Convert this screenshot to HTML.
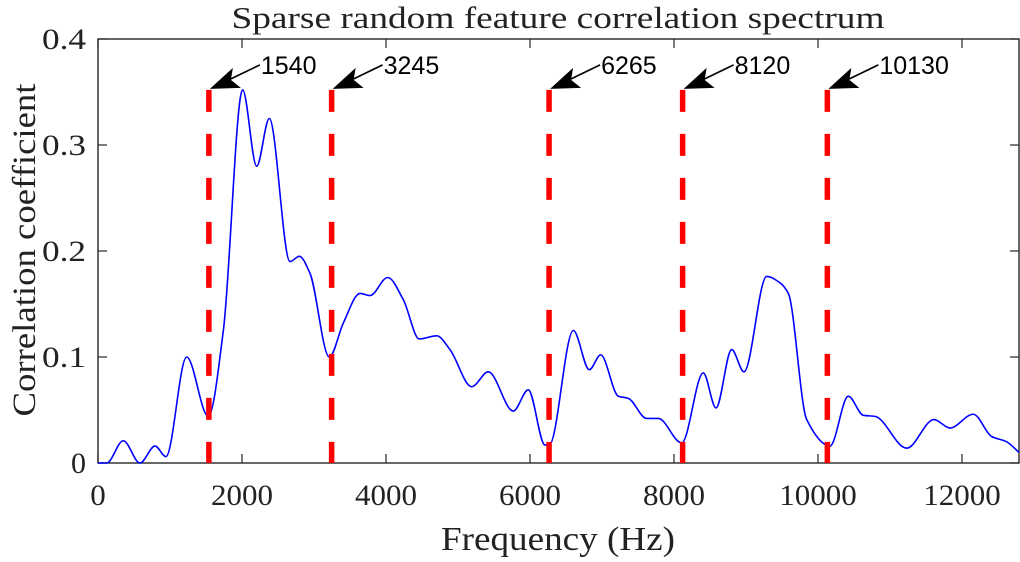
<!DOCTYPE html>
<html><head><meta charset="utf-8"><style>
html,body{margin:0;padding:0;background:#fff;}
svg text{font-family:"Liberation Serif",serif;fill:#222;}
</style></head><body>
<svg id="chart" width="1020" height="557" viewBox="0 0 1020 557" xmlns="http://www.w3.org/2000/svg">
<text x="558" y="28" font-size="31" text-anchor="middle" textLength="653" lengthAdjust="spacingAndGlyphs">Sparse random feature correlation spectrum</text>
<g id="axes"></g>
<g id="marks"></g>
<text x="558" y="550" font-size="34" text-anchor="middle" textLength="234" lengthAdjust="spacingAndGlyphs">Frequency (Hz)</text>
<text transform="translate(35,250) rotate(-90)" font-size="33" text-anchor="middle" textLength="333" lengthAdjust="spacingAndGlyphs">Correlation coefficient</text>
</svg>
<script>
const freqs=[0,120,351,583,792,944,1231,1532,1741,2009,2204,2379,2667,2796,2944,3213,3407,3639,3778,4023,4241,4463,4704,4889,5190,5421,5768,5976,6208,6268,6602,6824,6982,7227,7365,7621,7782,8107,8407,8583,8801,8972,9287,9472,9588,9843,10167,10421,10629,10792,11232,11611,11833,12157,12412,12621,12792];
const corr=[0,0,0.021,0,0.016,0.006,0.100,0.044,0.125,0.352,0.280,0.325,0.190,0.195,0.179,0.100,0.132,0.160,0.158,0.175,0.154,0.117,0.120,0.107,0.072,0.086,0.049,0.069,0.017,0.017,0.125,0.088,0.102,0.063,0.061,0.042,0.042,0.019,0.085,0.052,0.107,0.086,0.176,0.170,0.160,0.041,0.016,0.063,0.045,0.044,0.014,0.041,0.033,0.046,0.025,0.020,0.010];
const markFreqs=[1540,3245,6265,8120,10130];
const markLabels=["1540","3245","6265","8120","10130"];
const markTop=0.352;
const xTicks=[0,2000,4000,6000,8000,10000,12000];
const xTickLabels=["0","2000","4000","6000","8000","10000","12000"];
const yTicks=[0,0.1,0.2,0.3,0.4];
const yTickLabels=["0","0.1","0.2","0.3","0.4"];
const X0=98,X1=1019,Y0=463,Y1=39,XMAX=12792,YMAX=0.4;
const sx=f=>X0+f/XMAX*(X1-X0);
const sy=v=>Y0-v/YMAX*(Y0-Y1);
const NS="http://www.w3.org/2000/svg";
function mk(tag,attrs,parent){const e=document.createElementNS(NS,tag);for(const k in attrs)e.setAttribute(k,attrs[k]);parent.appendChild(e);return e;}
const axes=document.getElementById('axes'),marks=document.getElementById('marks');
const px=freqs.map(sx),py=corr.map(sy),n=px.length;
const dx=[],sl=[];for(let i=0;i<n-1;i++){dx.push(px[i+1]-px[i]);sl.push((py[i+1]-py[i])/dx[i]);}
const m=[sl[0]];for(let i=1;i<n-1;i++){if(sl[i-1]*sl[i]<=0)m.push(0);else{const w1=2*dx[i]+dx[i-1],w2=dx[i]+2*dx[i-1];m.push((w1+w2)/(w1/sl[i-1]+w2/sl[i]));}}m.push(sl[n-2]);
let d=`M${px[0]},${py[0]}`;
for(let i=0;i<n-1;i++){const h=dx[i]/3;d+=` C${px[i]+h},${py[i]+m[i]*h} ${px[i+1]-h},${py[i+1]-m[i+1]*h} ${px[i+1]},${py[i+1]}`;}
const line=mk('path',{d:d,fill:'none',stroke:'#0000ff','stroke-width':1.6},marks);


markFreqs.forEach((f,i)=>{const x=sx(f),yt=sy(markTop);
const dl=mk('line',{x1:x,y1:yt,x2:x,y2:Y0,stroke:'#ff0000','stroke-width':5.5,'stroke-dasharray':'22 22'},marks);


const tx=x+51,ty=yt-25;
const ar=mk('line',{x1:tx,y1:ty,x2:x+20,y2:yt-10,stroke:'#000','stroke-width':1.6},marks);


const hd=mk('polygon',{points:`${x+1},${yt-1} ${x+24},${yt-22} ${x+22},${yt-10} ${x+32},${yt-2}`,fill:'#000'},marks);


const t=mk('text',{x:tx+1,y:ty+9,'font-size':25,style:'font-family:"Liberation Sans",sans-serif;fill:#000'},marks);
t.textContent=markLabels[i];


});
const box=mk('rect',{x:X0,y:Y1,width:X1-X0,height:Y0-Y1,fill:'none',stroke:'#262626','stroke-width':1.4},axes);


xTicks.forEach((f,i)=>{const x=sx(f);
mk('line',{x1:x,y1:Y0,x2:x,y2:Y0-9,stroke:'#262626','stroke-width':1.2},axes);
mk('line',{x1:x,y1:Y1,x2:x,y2:Y1+9,stroke:'#262626','stroke-width':1.2},axes);
const lab=xTickLabels[i];
const t=mk('text',{x:x,y:Y0+42,'font-size':30,'text-anchor':'middle',textLength:lab.length*15.5,lengthAdjust:'spacingAndGlyphs'},axes);t.textContent=lab;

});
yTicks.forEach((v,i)=>{const y=sy(v);
mk('line',{x1:X0,y1:y,x2:X0+9,y2:y,stroke:'#262626','stroke-width':1.2},axes);
mk('line',{x1:X1,y1:y,x2:X1-9,y2:y,stroke:'#262626','stroke-width':1.2},axes);
const lab=yTickLabels[i];
const t=mk('text',{x:X0-12,y:y+10,'font-size':30,'text-anchor':'end',textLength:lab.length===1?15:44,lengthAdjust:'spacingAndGlyphs'},axes);t.textContent=lab;

});
</script>
</body></html>
